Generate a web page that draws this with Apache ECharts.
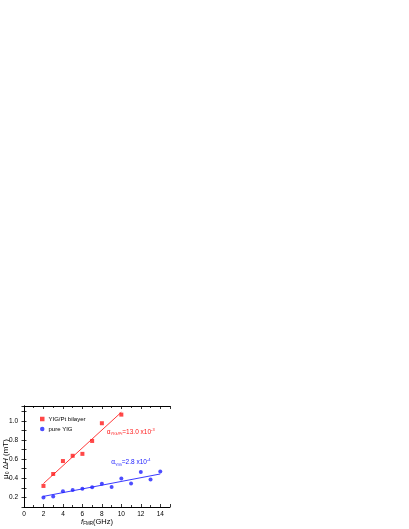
<!DOCTYPE html>
<html>
<head>
<meta charset="utf-8">
<script src="https://cdn.jsdelivr.net/npm/echarts@6/dist/echarts.min.js"></script>
<style>
html,body{margin:0;padding:0;background:#fff;}
#chart{width:409px;height:529px;}
</style>
</head>
<body>
<div id="chart"></div>
<script>
// Data
const xRed = [2, 3, 4, 5, 6, 7, 8, 10];
const yRed = [0.32, 0.445, 0.58, 0.635, 0.655, 0.79, 0.975, 1.065];
const xBlue = [2, 3, 4, 5, 6, 7, 8, 9, 10, 11, 12, 13, 14];
const yBlue = [0.20, 0.21, 0.265, 0.277, 0.29, 0.305, 0.343, 0.308, 0.398, 0.345, 0.465, 0.388, 0.472];
const xRedFit = [2, 10];
const yRedFit = [0.345, 1.09];
const xBlueFit = [2, 14];
const yBlueFit = [0.211, 0.445];
const xTicks = [0, 2, 4, 6, 8, 10, 12, 14];
const yTicks = [0.2, 0.4, 0.6, 0.8, 1.0];
const seriesNames = ['YIG/Pt bilayer', 'pure YIG'];

const zip = (xs, ys) => xs.map((x, i) => [x, ys[i]]);
const FONT = '"Liberation Sans", Arial, sans-serif';
const RED = '#ff1a1a';
const BLUE = '#2020ff';

const chart = echarts.init(document.getElementById('chart'), null, {renderer: 'canvas'});

function isTick(v, arr) { return arr.some(t => Math.abs(t - v) < 1e-6); }

const baseAxisLine = {show: true, lineStyle: {color: '#000', width: 1}};
const xRich = {
  base: {fontSize: 7.5, fontFamily: FONT, color: '#000'},
  it: {fontSize: 7.5, fontFamily: FONT, color: '#000', fontStyle: 'italic'},
  sub: {fontSize: 4.5, fontFamily: FONT, color: '#000', padding: [5, 0, 0, 0]}
};
const yRich = {
  base: {fontSize: 8, fontFamily: FONT, color: '#000'},
  it: {fontSize: 8, fontFamily: FONT, color: '#000', fontStyle: 'italic'},
  sub: {fontSize: 5, fontFamily: FONT, color: '#000', padding: [4, 0, 0, 0]}
};

const option = {
  animation: false,
  backgroundColor: '#fff',
  grid: {left: 24, right: 239, top: 406, bottom: 22, containLabel: false, outerBoundsMode: 'none'},
  graphic: [{
    type: 'text',
    x: 6, y: 459,
    rotation: Math.PI / 2,
    silent: true,
    style: {
      text: '{base|μ}{sub|0}{base| Δ}{it|H}{base| (mT)}',
      align: 'center', verticalAlign: 'middle',
      rich: yRich
    }
  }],
  legend: {
    data: [{name: seriesNames[0], icon: 'rect'}, {name: seriesNames[1], icon: 'circle'}],
    orient: 'vertical',
    left: 35, top: 411,
    itemWidth: 4.5, itemHeight: 4.5, itemGap: 4,
    textStyle: {fontSize: 6, fontFamily: FONT, color: '#000', padding: [0, 0, 0, -1]}
  },
  xAxis: [{
    type: 'value', min: 0, max: 15, interval: 2, position: 'bottom',
    axisLine: baseAxisLine,
    axisTick: {show: true, inside: true, length: 3, lineStyle: {color: '#000', width: 0.8}},
    minorTick: {show: true, splitNumber: 2, length: 2, lineStyle: {color: '#000', width: 0.8}},
    splitLine: {show: false}, minorSplitLine: {show: false},
    axisLabel: {fontSize: 6.5, fontFamily: FONT, color: '#000', margin: 3.5,
      formatter: v => isTick(v, xTicks) ? String(v) : ''},
    name: '{it|f}{sub|FMR}{base|(GHz)}',
    nameLocation: 'middle', nameGap: 9.5, nameMoveOverlap: false,
    nameTextStyle: {rich: xRich}
  }, {
    type: 'value', min: 0, max: 15, interval: 2, position: 'top',
    axisLine: baseAxisLine,
    axisTick: {show: true, inside: true, length: 3, lineStyle: {color: '#000', width: 0.8}},
    minorTick: {show: true, splitNumber: 2, length: 2, lineStyle: {color: '#000', width: 0.8}},
    splitLine: {show: false}, axisLabel: {show: false}
  }],
  yAxis: [{
    type: 'value', min: 0.1, max: 1.155, interval: 0.1, position: 'left',
    axisLine: baseAxisLine,
    axisTick: {show: true, inside: true, length: 2.5, lineStyle: {color: '#000', width: 0.8}},
    splitLine: {show: false},
    axisLabel: {fontSize: 6.5, fontFamily: FONT, color: '#000', margin: 6,
      formatter: v => isTick(v, yTicks) ? v.toFixed(1) : ''}
  }, {
    type: 'value', min: 0.1, max: 1.155, interval: 0.1, position: 'right',
    axisLine: baseAxisLine,
    axisTick: {show: true, inside: true, length: 2.5, lineStyle: {color: '#000', width: 0.8}},
    splitLine: {show: false}, axisLabel: {show: false}
  }],
  series: [{
    name: seriesNames[0], type: 'scatter', symbol: 'rect', symbolSize: 4,
    itemStyle: {color: RED},
    data: zip(xRed, yRed),
    z: 5,
    markPoint: {
      symbol: 'rect', symbolSize: 0.1, silent: true,
      itemStyle: {color: 'rgba(0,0,0,0)'},
      label: {show: true, position: 'right', distance: 0, color: RED,
        formatter: 'α{s|YIG/Pt}=13.0 x10{p|-3}',
        fontSize: 6.5, fontFamily: FONT,
        rich: {s: {fontSize: 4, color: RED, fontFamily: FONT, padding: [4, 0, 0, 0]},
               p: {fontSize: 4, color: RED, fontFamily: FONT, padding: [0, 0, 5, 0]}}},
      data: [{coord: [8.5, 0.88]}]
    }
  }, {
    name: seriesNames[1], type: 'scatter', symbol: 'circle', symbolSize: 4,
    itemStyle: {color: BLUE},
    data: zip(xBlue, yBlue),
    z: 5,
    markPoint: {
      symbol: 'rect', symbolSize: 0.1, silent: true,
      itemStyle: {color: 'rgba(0,0,0,0)'},
      label: {show: true, position: 'right', distance: 0, color: BLUE,
        formatter: 'α{s|YIG}=2.8 x10{p|-4}',
        fontSize: 6.5, fontFamily: FONT,
        rich: {s: {fontSize: 4, color: BLUE, fontFamily: FONT, padding: [4, 0, 0, 0]},
               p: {fontSize: 4, color: BLUE, fontFamily: FONT, padding: [0, 0, 5, 0]}}},
      data: [{coord: [8.95, 0.565]}]
    }
  }, {
    name: 'fitRed', type: 'line', data: zip(xRedFit, yRedFit), showSymbol: false,
    lineStyle: {color: '#ff3a3a', width: 1}, z: 3, silent: true
  }, {
    name: 'fitBlue', type: 'line', data: zip(xBlueFit, yBlueFit), showSymbol: false,
    lineStyle: {color: '#3a3aff', width: 1}, z: 3, silent: true
  }]
};
chart.setOption(option);
</script>
</body>
</html>
